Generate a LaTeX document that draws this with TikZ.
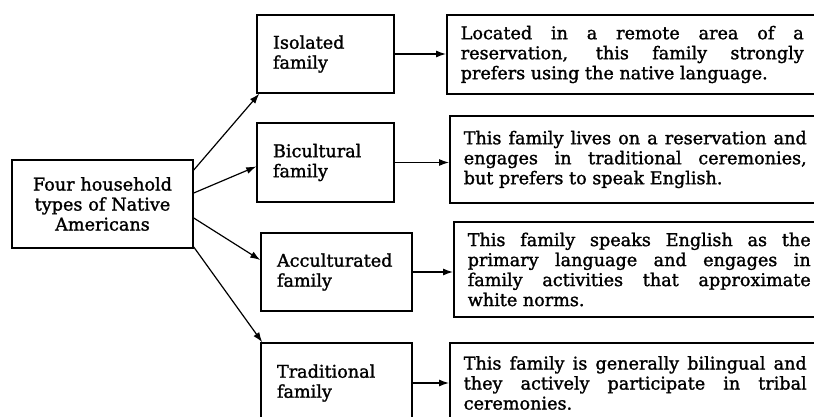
\documentclass[tikz,border=0pt]{standalone}
\usepackage{fontspec}
\setmainfont{DejaVu Serif}
\newfontfamily\boxfont[FakeBold=1.5]{DejaVu Serif}
\usetikzlibrary{arrows.meta}

\begin{document}
\begin{tikzpicture}[
    x=1pt, y=1pt,
    every node/.style={
        draw, line width=1.5pt,
        font=\boxfont\fontsize{17.6}{20}\selectfont,
        inner sep=0pt
    },
    hub/.style={
        minimum width=181pt, minimum height=88pt,
        text width=165pt, align=center
    },
    kind/.style={
        minimum height=78pt,
        text width=#1, inner xsep=16pt, align=left
    },
    detail/.style={
        anchor=west, minimum height=#1,
        text width=343pt, inner xsep=14pt, align=justify
    },
    link/.style={draw, line width=1.2pt, -{Latex[length=10pt,width=7pt]}}
]
\useasboundingbox (0,0) rectangle (814,416);
\clip (0,0) rectangle (814,416);

\node[hub] (types) at (102.5,212) {Four household\\types of Native\\Americans};

\node[kind=105pt] (iso) at (325.5,362) {Isolated\\family};
\node[kind=105pt, minimum height=79pt] (bic) at (325.5,253.5) {Bicultural\\family};
\node[kind=119pt] (acc) at (336.5,144) {Acculturated\\family};
\node[kind=119pt, minimum height=80pt] (tra) at (336.5,33) {Traditional\\family};

\node[detail=79pt] (d1) at (446,361.5) {Located in a remote area of a\linebreak
    reservation, this family strongly\linebreak prefers using the native language.};
\node[detail=87pt] (d2) at (449,256.5) {This family lives on a reservation and\linebreak
    engages in traditional ceremonies,\linebreak but prefers to speak English.};
\node[detail=95pt] (d3) at (453,146.5) {This family speaks English as the\linebreak
    primary language and engages in\linebreak family activities that approximate\linebreak white norms.};
\node[detail=80pt] (d4) at (449,33) {This family is generally bilingual and\linebreak
    they actively participate in tribal\linebreak ceremonies.};

\draw[link] ([yshift=34pt]types.east) -- ([xshift=3pt]iso.south west);
\draw[link] ([yshift=11pt]types.east) -- ([yshift=-4pt]bic.west);
\draw[link] ([yshift=-14pt]types.east) -- ([yshift=12pt]acc.west);
\draw[link] ([yshift=-43pt]types.east) -- ([xshift=2pt]tra.north west);

\draw[link] (iso.east) -- (iso.east -| d1.west);
\draw[link] (bic.east) -- (bic.east -| d2.west);
\draw[link] (acc.east) -- (acc.east -| d3.west);
\draw[link] (tra.east) -- (tra.east -| d4.west);
\end{tikzpicture}
\end{document}
